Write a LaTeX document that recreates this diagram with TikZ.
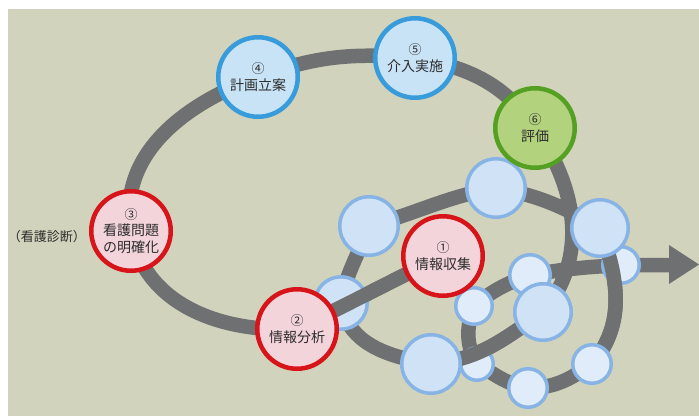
\documentclass[tikz,border=0pt]{standalone}
\usepackage{fontspec}
\setmainfont{Noto Sans CJK JP}
\definecolor{bg}{RGB}{210,211,188}
\definecolor{trackgray}{RGB}{110,112,114}
\definecolor{redline}{RGB}{215,20,25}
\definecolor{redfill}{RGB}{242,212,218}
\definecolor{blueline}{RGB}{55,155,220}
\definecolor{bluefill}{RGB}{200,226,246}
\definecolor{greenline}{RGB}{85,160,35}
\definecolor{greenfill}{RGB}{178,210,125}
\definecolor{bubline}{RGB}{135,180,228}
\definecolor{bubfill}{RGB}{208,226,245}
\definecolor{bubfilltwo}{RGB}{224,236,250}
\definecolor{txt}{RGB}{45,45,45}
\newcommand{\stepnum}[1]{{\fontsize{13}{14}\selectfont #1}}
\begin{document}
\begin{tikzpicture}[x=1pt,y=1pt,
  track/.style={draw=trackgray, line width=14.5pt, line join=round},
  mainnode/.style={circle, line width=4.5pt, minimum size=79.5pt, inner sep=0pt, align=center, text=txt, font=\fontsize{14}{16.5}\selectfont},
  rednode/.style={mainnode, draw=redline, fill=redfill},
  bluenode/.style={mainnode, draw=blueline, fill=bluefill},
  greennode/.style={mainnode, draw=greenline, fill=greenfill},
  bub/.style={circle, draw=bubline, line width=3.5pt, inner sep=0pt, fill=bubfill},
  bubsmall/.style={bub, fill=bubfilltwo}
]
\useasboundingbox (0,0) rectangle (699,-416);
\fill[white] (0,0) rectangle (699,-416);
\fill[bg] (8,-9) rectangle (699,-416);

% positions
\coordinate (p1) at (443,-256);
\coordinate (p2) at (297,-329);
\coordinate (p3) at (131,-231);
\coordinate (p4) at (258,-77);
\coordinate (p5) at (415,-58);
\coordinate (p6) at (535,-128);
\coordinate (bA) at (369,-226);
\coordinate (bB) at (496,-188);
\coordinate (bC) at (341,-303);
\coordinate (bI) at (474,-306);
\coordinate (bE) at (600,-228);
\coordinate (bF) at (621,-265);
\coordinate (bG) at (530,-275);
\coordinate (bH) at (543,-312);
\coordinate (bJ) at (431,-364);
\coordinate (bK) at (477,-364);
\coordinate (bL) at (528,-388);
\coordinate (bM) at (592,-364);
\coordinate (aend) at (670,-265);
\coordinate (atop) at (669,-245);
\coordinate (atip) at (699,-264.5);
\coordinate (abot) at (669,-284);

% spiral track
\draw[track] (p1) to[out=206,in=26] (p2) to[out=183,in=-80] (p3)
  to[out=100,in=200] (p4) to[out=20,in=175] (p5) to[out=-10,in=125] (p6)
  to[out=-55,in=50] (bH) to[out=215,in=5] (bJ) to[out=170,in=-80] (bC)
  to[out=80,in=-110] (bA) to[out=15,in=190] (bB) to[out=-10,in=150] (bE)
  to[out=-70,in=50] (bM) to[out=215,in=0] (bL) to[out=170,in=-30] (bK)
  to[out=120,in=-110] (bI) to[out=40,in=200] (bG) to[out=10,in=180] (aend);
\fill[trackgray] (atop) -- (atip) -- (abot) -- cycle;

% bubbles behind crossing bands
\node[bub, minimum size=52.5pt] (C) at (bC) {};
\node[bubsmall, minimum size=32.5pt] (K) at (bK) {};
\node[bubsmall, minimum size=36.5pt] (F) at (bF) {};

% bands crossing in front
\draw[track] (p1) to[out=206,in=26] (p2);
\draw[track] (bH) to[out=215,in=5] (bJ);
\draw[track] (bE) to[out=-70,in=50] (bM);

% front bubbles
\node[bub, minimum size=58.5pt] (A) at (bA) {};
\node[bub, minimum size=58.5pt] (B) at (bB) {};
\node[bubsmall, minimum size=36.5pt] (I) at (bI) {};
\node[bubsmall, minimum size=40.5pt] (G) at (bG) {};
\node[bub, minimum size=56.5pt] (H) at (bH) {};
\node[bub, minimum size=56.5pt] (E) at (bE) {};
\node[bub, minimum size=58.5pt] (J) at (bJ) {};
\node[bubsmall, minimum size=38.5pt] (L) at (bL) {};
\node[bubsmall, minimum size=38.5pt] (M) at (bM) {};

% main steps
\node[rednode] (n1) at (p1) {\stepnum{①}\\情報収集};
\node[rednode] (n2) at (p2) {\stepnum{②}\\情報分析};
\node[rednode] (n3) at (p3) {\stepnum{③}\\看護問題\\の明確化};
\node[bluenode] (n4) at (p4) {\stepnum{④}\\計画立案};
\node[bluenode] (n5) at (p5) {\stepnum{⑤}\\介入実施};
\node[greennode] (n6) at (p6) {\stepnum{⑥}\\評価};

\node[text=txt, font=\fontsize{13}{15}\selectfont] (diag) at (47,-237) {（看護診断）};
\end{tikzpicture}
\end{document}
